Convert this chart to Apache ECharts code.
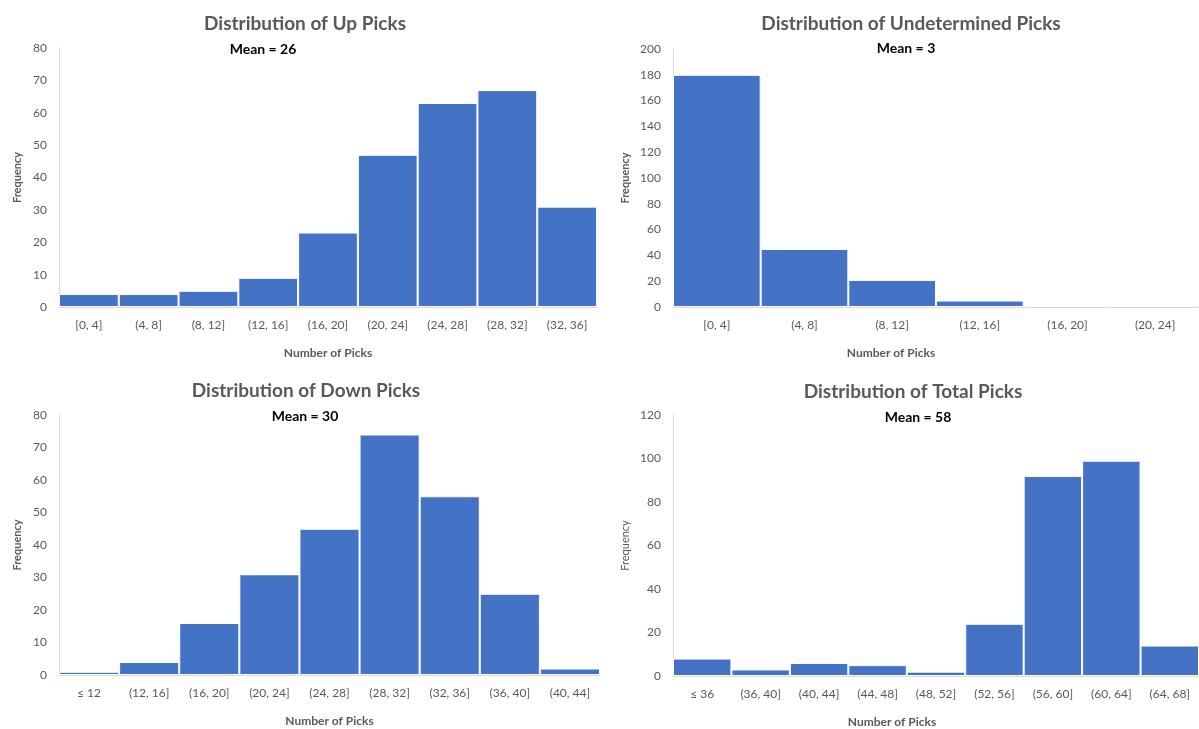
<!DOCTYPE html>
<html>
<head>
<meta charset="utf-8">
<script src="https://cdn.jsdelivr.net/npm/echarts@6/dist/echarts.min.js"></script>
<style>
html,body{margin:0;padding:0;background:#fff;}
#c{width:1199px;height:729px;}
</style>
</head>
<body>
<div id="c"></div>
<script>
const upCats = ['[0, 4]', '(4, 8]', '(8, 12]', '(12, 16]', '(16, 20]', '(20, 24]', '(24, 28]', '(28, 32]', '(32, 36]'];
const upVals = [4, 4, 5, 9, 23, 47, 63, 67, 31];
const undCats = ['[0, 4]', '(4, 8]', '(8, 12]', '(12, 16]', '(16, 20]', '(20, 24]'];
const undVals = [180, 45, 21, 5, 1, 1];
const downCats = ['≤ 12', '(12, 16]', '(16, 20]', '(20, 24]', '(24, 28]', '(28, 32]', '(32, 36]', '(36, 40]', '(40, 44]'];
const downVals = [1, 4, 16, 31, 45, 74, 55, 25, 2];
const totCats = ['≤ 36', '(36, 40]', '(40, 44]', '(44, 48]', '(48, 52]', '(52, 56]', '(56, 60]', '(60, 64]', '(64, 68]'];
const totVals = [8, 3, 6, 5, 2, 24, 92, 99, 14];

const titles = ['Distribution of Up Picks', 'Distribution of Undetermined Picks', 'Distribution of Down Picks', 'Distribution of Total Picks'];
const means = ['Mean = 26', 'Mean = 3', 'Mean = 30', 'Mean = 58'];
const yMax = [80, 200, 80, 120];
const yInt = [10, 20, 10, 20];

const FONT = 'Lato';
const grids = [
  {left: 59, top: 48, width: 538, height: 259},
  {left: 673, top: 49, width: 528, height: 258},
  {left: 59, top: 415, width: 541, height: 260},
  {left: 673, top: 415, width: 532, height: 262}
];
const titlePos = [
  {x: 300, y: 9, mx: 258, my: 37},
  {x: 906, y: 9, mx: 901, my: 36},
  {x: 301, y: 376, mx: 300, my: 404},
  {x: 908, y: 377, mx: 913, my: 405}
];
const cats = [upCats, undCats, downCats, totCats];
const vals = [upVals, undVals, downVals, totVals];
const freqBold = ['bold', 'bold', 'bold', 'normal'];
const nameShift = [0, 90, 0, 88];

const title = [];
titles.forEach((t, i) => {
  title.push({text: t, left: titlePos[i].x, top: titlePos[i].y, textAlign: 'center',
    textStyle: {fontFamily: FONT, fontSize: 19, fontWeight: 'bold', color: '#595959'}});
  title.push({text: means[i], left: titlePos[i].mx, top: titlePos[i].my, textAlign: 'center',
    textStyle: {fontFamily: FONT, fontSize: 14, fontWeight: 'bold', color: '#000'}});
});

const option = {
  animation: false,
  backgroundColor: '#fff',
  title: title,
  grid: grids,
  xAxis: cats.map((c, i) => ({
    type: 'category', gridIndex: i, data: c,
    name: 'Number of Picks', nameLocation: 'middle', nameGap: 40,
    nameTextStyle: {fontFamily: FONT, fontSize: 12, fontWeight: 'bold', color: '#595959', padding: [0, nameShift[i], 0, 0]},
    axisLine: {lineStyle: {color: '#d9d9d9'}},
    axisTick: {show: false},
    axisLabel: {fontFamily: FONT, fontSize: 12, color: '#595959', margin: 12, interval: 0}
  })),
  yAxis: cats.map((c, i) => ({
    type: 'value', gridIndex: i, min: 0, max: yMax[i], interval: yInt[i],
    name: 'Frequency', nameLocation: 'middle', nameGap: i % 2 === 0 ? 36 : 42,
    nameTextStyle: {fontFamily: FONT, fontSize: 11, fontWeight: freqBold[i], color: '#595959'},
    axisLine: {show: true, lineStyle: {color: '#d9d9d9'}},
    axisTick: {show: false},
    splitLine: {show: false},
    axisLabel: {fontFamily: FONT, fontSize: 12, color: '#595959', margin: 12}
  })),
  series: vals.map((v, i) => ({
    type: 'bar', xAxisIndex: i, yAxisIndex: i, data: v,
    barCategoryGap: '0%',
    itemStyle: {color: '#4472C4', borderColor: '#ffffff', borderWidth: 1}
  }))
};

const chart = echarts.init(document.getElementById('c'), null, {renderer: 'canvas'});
chart.setOption(option);
</script>
</body>
</html>
